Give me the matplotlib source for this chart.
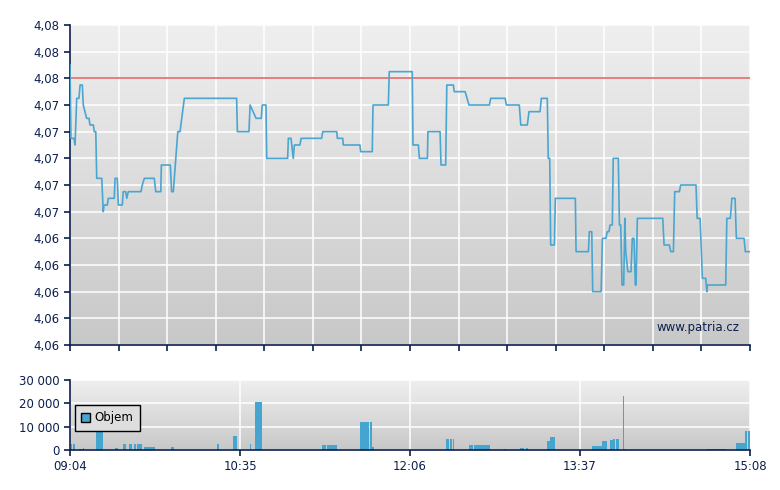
import matplotlib
matplotlib.use("Agg")
import matplotlib.pyplot as plt
import numpy as np
from matplotlib.patches import Patch

# minutes after 09:04 and price of each trade point
price_t = [0, 0.5, 2.1, 2.7, 3.6, 4.8, 5.4, 6.6, 7.1, 8.9, 10.2, 10.7, 12.5,
           13.0, 13.8, 14.3, 17.0, 17.8, 18.2, 20.0, 20.5, 23.7, 24.1, 25.3,
           25.9, 28.0, 28.5, 29.8, 30.4, 31.2, 38.0, 38.7, 39.8, 45.1, 45.9,
           48.6, 48.9, 53.7, 54.4, 55.3, 57.7, 58.9, 61.2, 89.2, 89.6, 95.8,
           96.4, 99.6, 102.4, 102.9, 104.9, 105.3, 116.5, 116.9, 118.3, 119.5,
           120.1, 123.1, 123.7, 134.7, 135.3, 142.8, 143.1, 146.0, 146.3,
           155.2, 155.6, 161.8, 162.2, 170.4, 170.9, 183.2, 183.6, 186.5,
           187.0, 191.3, 191.6, 198.1, 198.6, 201.1, 201.7, 205.2, 205.7,
           211.5, 213.6, 224.5, 225.2, 232.9, 233.6, 240.5, 241.3, 244.8,
           245.7, 251.6, 252.3, 255.5, 256.0, 256.8, 257.3, 259.3, 259.8,
           270.5, 270.9, 277.5, 278.0, 279.3, 279.8, 284.3, 285.0, 286.9,
           287.6, 288.5, 289.1, 290.3, 290.8, 293.5, 294.1, 294.8, 295.5,
           296.4, 297.0, 297.5, 298.6, 300.3, 301.0, 301.9, 302.6, 303.0,
           303.7, 317.3, 318.0, 320.8, 321.6, 323.0, 323.7, 326.2, 326.9,
           335.1, 335.7, 337.3, 338.5, 340.3, 340.9, 341.2, 351.0, 351.6,
           353.5, 354.3, 356.0, 356.7, 360.8, 361.5, 364.0]
price_v = [4.0770, 4.0715, 4.0715, 4.0710, 4.0745, 4.0745, 4.0755, 4.0755,
           4.0740, 4.0730, 4.0730, 4.0725, 4.0725, 4.0720, 4.0720, 4.0685,
           4.0685, 4.0660, 4.0665, 4.0665, 4.0670, 4.0670, 4.0685, 4.0685,
           4.0665, 4.0665, 4.0675, 4.0675, 4.0670, 4.0675, 4.0675, 4.0680,
           4.0685, 4.0685, 4.0675, 4.0675, 4.0695, 4.0695, 4.0675, 4.0675,
           4.0720, 4.0720, 4.0745, 4.0745, 4.0720, 4.0720, 4.0740, 4.0730,
           4.0730, 4.0740, 4.0740, 4.0700, 4.0700, 4.0715, 4.0715, 4.0700,
           4.0710, 4.0710, 4.0715, 4.0715, 4.0720, 4.0720, 4.0715, 4.0715,
           4.0710, 4.0710, 4.0705, 4.0705, 4.0740, 4.0740, 4.0765, 4.0765,
           4.0710, 4.0710, 4.0700, 4.0700, 4.0720, 4.0720, 4.0695, 4.0695,
           4.0755, 4.0755, 4.0750, 4.0750, 4.0740, 4.0740, 4.0745, 4.0745,
           4.0740, 4.0740, 4.0725, 4.0725, 4.0735, 4.0735, 4.0745, 4.0745,
           4.0700, 4.0700, 4.0635, 4.0635, 4.0670, 4.0670, 4.0630, 4.0630,
           4.0645, 4.0645, 4.0600, 4.0600, 4.0640, 4.0640, 4.0645, 4.0645,
           4.0650, 4.0650, 4.0700, 4.0700, 4.0650, 4.0650, 4.0605, 4.0605,
           4.0655, 4.0630, 4.0615, 4.0615, 4.0640, 4.0640, 4.0605, 4.0605,
           4.0655, 4.0655, 4.0635, 4.0635, 4.0630, 4.0630, 4.0675, 4.0675,
           4.0680, 4.0680, 4.0655, 4.0655, 4.0610, 4.0610, 4.0600, 4.0605,
           4.0605, 4.0655, 4.0655, 4.0670, 4.0670, 4.0640, 4.0640, 4.0630,
           4.0630]
ref_price = 4.076

# volume bars: start minute, end minute, volume
vol_start = [0.4, 1.8, 4.8, 6.8, 13.9, 24.1, 28.4, 31.6, 34.3, 35.9, 39.6,
             54.1, 78.7, 87.3, 96.4, 99.0, 134.9, 137.6, 155.2, 160.6, 161.7,
             201.3, 203.4, 204.9, 213.6, 216.3, 232.3, 240.9, 244.1, 255.4,
             257.0, 279.4, 284.8, 289.1, 290.7, 292.3, 296.0, 296.6, 341.0,
             356.5, 361.3, 362.8]
vol_end = [1.1, 2.5, 6.8, 7.3, 17.5, 25.5, 29.8, 33.0, 35.2, 38.5, 45.5,
           55.7, 79.6, 89.4, 96.9, 102.8, 136.9, 143.0, 159.9, 161.7, 162.8,
           202.9, 204.3, 205.4, 215.7, 224.8, 233.2, 242.9, 245.0, 257.0,
           259.5, 284.8, 287.5, 290.7, 291.8, 293.9, 296.4, 297.2, 351.0,
           361.3, 362.6, 364.0]
vol_v = [2600, 2600, 600, 1000, 9000, 900, 2600, 2600, 2600, 2600, 1300,
         1300, 2600, 6000, 2600, 20600, 2100, 2100, 12100, 12100, 1300,
         4700, 4700, 4700, 2100, 2100, 600, 900, 900, 3900, 5600, 1700,
         3900, 4300, 4700, 4700, 23100, 400, 400, 3000, 8100, 8100]

price_yticks = [4.056 + 0.002 * i for i in range(13)]
vol_yticks = [0, 10000, 20000, 30000]
main_xticks = list(range(0, 365, 26))
vol_xticks = [0, 91, 182, 273, 364]

NAVY = "#0b1f4d"
LINE = "#4aa6d0"
BAR = "#45a5cf"


def hhmm(m):
    tot = 9 * 60 + 4 + int(m)
    return f"{tot // 60:02d}:{tot % 60:02d}"


def gradient(ax, top="#efefef", bottom="#c8c8c8"):
    c1 = np.array(matplotlib.colors.to_rgb(top))
    c2 = np.array(matplotlib.colors.to_rgb(bottom))
    f = np.linspace(0, 1, 256)[:, None]
    img = (c1 * (1 - f) + c2 * f)[:, None, :]
    ax.imshow(img, extent=[0, 1, 0, 1], transform=ax.transAxes,
              aspect="auto", zorder=0)


def style(ax):
    for s in ("top", "right"):
        ax.spines[s].set_visible(False)
    for s in ("left", "bottom"):
        ax.spines[s].set_color(NAVY)
        ax.spines[s].set_linewidth(1.2)
    ax.tick_params(colors=NAVY, labelcolor=NAVY, labelsize=8.5,
                   length=4, width=1.2, direction="out")
    ax.grid(True, color="white", linewidth=1.1, zorder=1)
    ax.set_axisbelow(True)


fig = plt.figure(figsize=(7.8, 4.9), dpi=100)
ax = fig.add_axes([70 / 780, 1 - 345 / 490, 680 / 780, 320 / 490])
axv = fig.add_axes([70 / 780, 1 - 450 / 490, 680 / 780, 70 / 490])

# price panel
gradient(ax)
style(ax)
ax.axhline(ref_price, color="#e05050", linewidth=1.2, alpha=0.85, zorder=2)
ax.plot(price_t, price_v, color=LINE, linewidth=1.2, zorder=3)
ax.set_xlim(0, 364)
ax.set_ylim(4.056, 4.080)
ax.set_yticks(price_yticks)
ax.set_yticklabels([f"{v:.2f}".replace(".", ",") for v in price_yticks])
ax.set_xticks(main_xticks)
ax.set_xticklabels([])
ax.text(0.985, 0.055, "www.patria.cz", transform=ax.transAxes,
        ha="right", va="center", fontsize=8.5, color=NAVY, zorder=4)

# volume panel
gradient(axv)
style(axv)
widths = [e - s for s, e in zip(vol_start, vol_end)]
axv.bar(vol_start, vol_v, width=widths, align="edge", color=BAR,
        linewidth=0, zorder=2)
axv.set_xlim(0, 364)
axv.set_ylim(0, 30000)
axv.set_yticks(vol_yticks)
axv.set_yticklabels([f"{v:,}".replace(",", " ") for v in vol_yticks])
axv.set_xticks(vol_xticks)
axv.set_xticklabels([hhmm(m) for m in vol_xticks])
leg = axv.legend(handles=[Patch(facecolor=BAR, edgecolor="black",
                                linewidth=1, label="Objem")],
                 loc="upper left", bbox_to_anchor=(0.007, 0.643),
                 fontsize=8.5, frameon=True, fancybox=False,
                 handlelength=0.75, handleheight=0.75, handletextpad=0.35,
                 borderpad=0.55, borderaxespad=0.0)
leg.get_frame().set_edgecolor("black")
leg.get_frame().set_facecolor("#dedede")
leg.get_frame().set_alpha(1)
leg.get_frame().set_linewidth(1)
leg.set_zorder(5)

fig.savefig("out.png", dpi=100)
